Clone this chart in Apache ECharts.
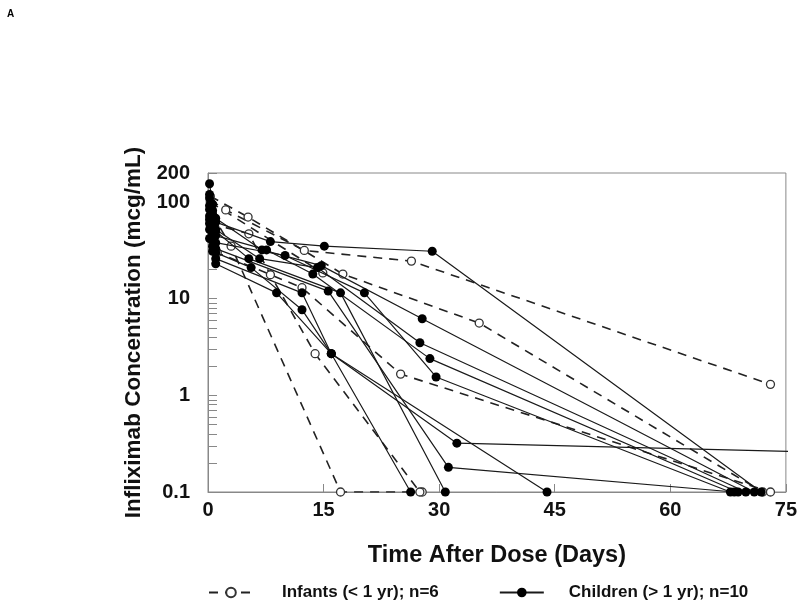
<!DOCTYPE html>
<html><head><meta charset="utf-8">
<script src="https://cdn.jsdelivr.net/npm/echarts@6/dist/echarts.min.js"></script>
<style>html,body{margin:0;padding:0;background:#fff}#c{width:800px;height:609px}</style>
</head><body><div id="c"></div>
<script>
// x tick labels (days) and y tick labels (mcg/mL)
const xTicks = [0, 15, 30, 45, 60, 75];
const yTickLabels = [0.1, 1, 10, 100, 200];
const yMinorTicks = [0.2,0.3,0.4,0.5,0.6,0.7,0.8,0.9,2,3,4,5,6,7,8,9,20,30,40,50,60,70,80,90];

const infantsName = 'Infants (< 1 yr); n=6';
const childrenName = 'Children (> 1 yr); n=10';

// Infants (< 1 yr): [day, concentration]
const infant1 = [[0.3,105],[2.3,83],[12.5,31.6],[26.4,24.5],[73,1.3]];
const infant2 = [[0.3,115],[5.2,70],[17.5,18],[35.2,5.6],[72,0.1]];
const infant3 = [[0.3,68],[1.2,30],[12.2,13],[25,1.66],[73,0.1]];
const infant4 = [[0.3,100],[14.9,18.5]];
const infant5 = [[0.5,75],[3,35],[17.2,0.1],[27.8,0.1]];
const infant6 = [[0.3,60],[5.3,47],[8.1,17.7],[13.9,2.7],[27.5,0.1]];

// Children (> 1 yr): [day, concentration]
const child1 = [[0.2,155],[0.6,95],[1.0,62],[8.1,39],[15.1,35],[29.1,31],[71.8,0.1]];
const child2 = [[0.2,110],[0.6,82],[1.0,68],[7.0,32],[14.7,22],[27.8,6.2],[70.9,0.1]];
const child3 = [[0.2,92],[0.6,66],[1.0,52],[6.7,26],[14.2,21],[27.5,3.5],[69.8,0.1]];
const child4 = [[0.2,84],[0.6,58],[1.0,45],[7.6,32],[13.6,18],[28.8,2.4],[68.8,0.1]];
const child5 = [[0.2,72],[0.6,48],[1.0,38],[10.0,28],[20.3,11.5],[29.6,1.55],[67.8,0.1]];
const child6 = [[0.2,60],[0.6,35],[1.0,23],[8.9,11.5],[16.0,2.7],[26.3,0.1]];
const child7 = [[0.2,52],[0.6,40],[1.0,30],[5.6,21],[12.2,7.7],[16.0,2.7],[32.3,0.32],[95,0.24]];
const child8 = [[0.2,66],[0.6,44],[1.0,33],[15.6,12],[31.2,0.18],[68.3,0.1]];
const child9 = [[0.2,120],[0.6,75],[1.0,50],[5.3,26],[17.2,11.5],[30.8,0.1]];
const child10 = [[0.2,42],[0.6,31],[1.0,26],[12.2,11.5],[16.0,2.7],[44.0,0.1]];

const infants = [infant1, infant2, infant3, infant4, infant5, infant6];
const children = [child1, child2, child3, child4, child5, child6, child7, child8, child9, child10];

const FONT = 'Liberation Sans, Arial, sans-serif';

const series = [];
infants.forEach(d => series.push({
  type: 'line', name: infantsName, data: d,
  symbol: 'circle', symbolSize: 8, showAllSymbol: true,
  itemStyle: { color: '#fff', borderColor: '#333', borderWidth: 1.3 },
  lineStyle: { color: '#222', width: 1.6, type: [9, 7] },
  emphasis: { disabled: true }, animation: false, z: 2
}));
children.forEach(d => series.push({
  type: 'line', name: childrenName, data: d,
  symbol: 'circle', symbolSize: 9, showAllSymbol: true,
  itemStyle: { color: '#000', borderColor: '#000', borderWidth: 0 },
  lineStyle: { color: '#1a1a1a', width: 1.2, type: 'solid' },
  emphasis: { disabled: true }, animation: false, z: 3
}));

const chart = echarts.init(document.getElementById('c'), null, { renderer: 'canvas' });
chart.setOption({
  animation: false,
  backgroundColor: '#fff',
  title: { text: 'A', left: 2, top: 4, textStyle: { fontSize: 10, fontWeight: 'bold', fontFamily: FONT, color: '#000' } },
  grid: { left: 208, right: 12, top: 173, bottom: 117, show: true, borderColor: '#888', borderWidth: 1, containLabel: false },
  legend: {
    bottom: 3, left: 203, itemWidth: 44, itemHeight: 12, itemGap: 60,
    textStyle: { fontSize: 17, fontWeight: 'bold', fontFamily: FONT, color: '#111' },
    data: [
      { name: infantsName, textStyle: { padding: [0, 0, 0, 24] } },
      { name: childrenName, textStyle: { padding: [0, 0, 0, 20] } }
    ]
  },
  xAxis: {
    type: 'value', min: xTicks[0], max: xTicks[xTicks.length - 1], interval: 15,
    name: 'Time After Dose (Days)', nameLocation: 'middle', nameGap: 52,
    nameTextStyle: { fontSize: 23.5, fontWeight: 'bold', fontFamily: FONT, color: '#111' },
    axisLine: { lineStyle: { color: '#888', width: 1 } },
    axisTick: { inside: true, length: 8, lineStyle: { color: '#888' } },
    axisLabel: { fontSize: 20, fontWeight: 'bold', fontFamily: FONT, color: '#111', margin: 8 },
    splitLine: { show: false }
  },
  yAxis: {
    type: 'log', logBase: 10, min: yTickLabels[0], max: yTickLabels[yTickLabels.length - 1],
    name: 'Infliximab Concentration (mcg/mL)', nameLocation: 'middle', nameGap: 30,
    nameTextStyle: { fontSize: 22.5, fontWeight: 'bold', fontFamily: FONT, color: '#111' },
    axisLine: { lineStyle: { color: '#888', width: 1 } },
    axisTick: { inside: true, length: 9, lineStyle: { color: '#888' }, customValues: yTickLabels.concat(yMinorTicks) },
    axisLabel: { fontSize: 20, fontWeight: 'bold', fontFamily: FONT, color: '#111', margin: 18,
      customValues: yTickLabels, formatter: v => String(v) },
    splitLine: { show: false }
  },
  series: series
});
</script></body></html>
